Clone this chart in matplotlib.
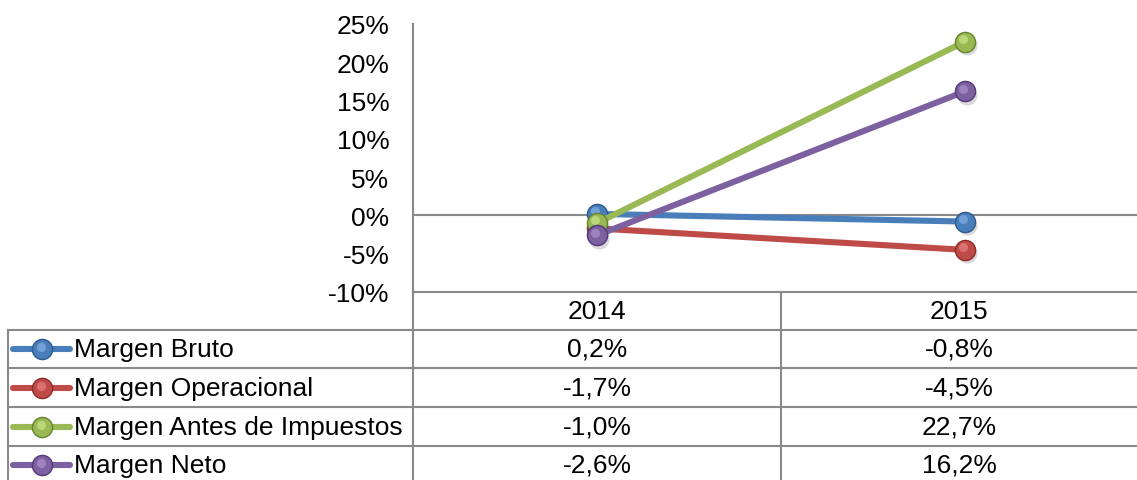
import matplotlib
matplotlib.use("Agg")
import matplotlib.pyplot as plt
from matplotlib.lines import Line2D
from matplotlib.ticker import FuncFormatter
from matplotlib.transforms import offset_copy

plt.rcParams['font.family'] = ['Liberation Sans', 'DejaVu Sans']

# data
years = ["2014", "2015"]
series_names = ["Margen Bruto", "Margen Operacional", "Margen Antes de Impuestos", "Margen Neto"]
bruto = [0.2, -0.8]
operacional = [-1.7, -4.5]
antes_impuestos = [-1.0, 22.7]
neto = [-2.6, 16.2]
series_values = [bruto, operacional, antes_impuestos, neto]
colors = ["#4A7EBB", "#BE4B48", "#98B954", "#7D60A0"]
light_colors = ["#8DB8EC", "#F08C8A", "#D2EC92", "#B89AD8"]
dark_colors = ["#2C5A8F", "#8E2C2A", "#66842F", "#54397A"]
y_ticks = [-10, -5, 0, 5, 10, 15, 20, 25]

FS = 19
W, H = 1137, 481
fig = plt.figure(figsize=(W / 100, H / 100), dpi=100)

# plot area in pixel coords (right edge runs past the figure, as in the source)
x0, x1 = 413, 1149
y_top, y_bot = 25, 293
ax = fig.add_axes([x0 / W, 1 - y_bot / H, (x1 - x0) / W, (y_bot - y_top) / H])
ax.set_xlim(-0.5, 1.5)
ax.set_ylim(-10, 25)
ax.set_yticks(y_ticks)
ax.yaxis.set_major_formatter(FuncFormatter(lambda v, p: f"{v:.0f}%".replace("\u2212", "-")))
ax.set_xticks([])
ax.tick_params(axis='y', length=0, pad=17, labelsize=FS)
for s in ["top", "right"]:
    ax.spines[s].set_visible(False)
for s in ["left", "bottom"]:
    ax.spines[s].set_color("#898989")
    ax.spines[s].set_linewidth(1.5)
ax.axhline(0, color="#898989", lw=1.5, zorder=1)

xs = list(range(len(years)))
hl = offset_copy(ax.transData, fig=fig, x=-1.5, y=2.0, units='points')
sh = offset_copy(ax.transData, fig=fig, x=1.5, y=-2.5, units='points')
for i, vals in enumerate(series_values):
    z = 3 + i
    ax.plot(xs, vals, color=colors[i], lw=4.4, solid_capstyle='butt', zorder=z)
    ax.plot(xs, vals, 'o', ms=14.5, color="#000000", alpha=0.15, mec='none', transform=sh, zorder=z)
    ax.plot(xs, vals, 'o', ms=14.5, color=colors[i], mec=dark_colors[i], mew=1.0, zorder=z)
    ax.plot(xs, vals, 'o', ms=6.5, color=light_colors[i], mec='none', alpha=0.6, transform=hl, zorder=z)

# data table below the plot
grey = "#898989"
def hline(y, xa, xb):
    fig.add_artist(Line2D([xa / W, xb / W], [1 - y / H, 1 - y / H], color=grey, lw=1.5))
def vline(x, ya, yb):
    fig.add_artist(Line2D([x / W, x / W], [1 - ya / H, 1 - yb / H], color=grey, lw=1.5))

row_edges = [331, 369, 408, 447]
for y in row_edges:
    hline(y, 8, W)
vline(8, 331, H)
vline(413, 293, H)
vline(781, 293, H)

col_centers = [597, 959]
header_y = 312
for cx, yr in zip(col_centers, years):
    fig.text(cx / W, 1 - header_y / H, yr, ha='center', va='center', fontsize=FS)

row_centers = [350, 389, 428, 466]
for i, (name, vals) in enumerate(zip(series_names, series_values)):
    yc = 1 - row_centers[i] / H
    fig.add_artist(Line2D([13 / W, 70 / W], [yc, yc], color=colors[i], lw=4.4, solid_capstyle='round'))
    fig.add_artist(Line2D([42 / W], [yc], marker='o', ms=14.5, color=colors[i], mec=dark_colors[i], mew=1.0))
    fig.add_artist(Line2D([40.5 / W], [yc + 2.5 / H], marker='o', ms=6.5, color=light_colors[i], mec='none', alpha=0.6))
    fig.text(74 / W, yc, name, ha='left', va='center', fontsize=FS)
    for cx, v in zip(col_centers, vals):
        fig.text(cx / W, yc, f"{v:.1f}%".replace(".", ","), ha='center', va='center', fontsize=FS)

fig.savefig("out.png", dpi=100)
